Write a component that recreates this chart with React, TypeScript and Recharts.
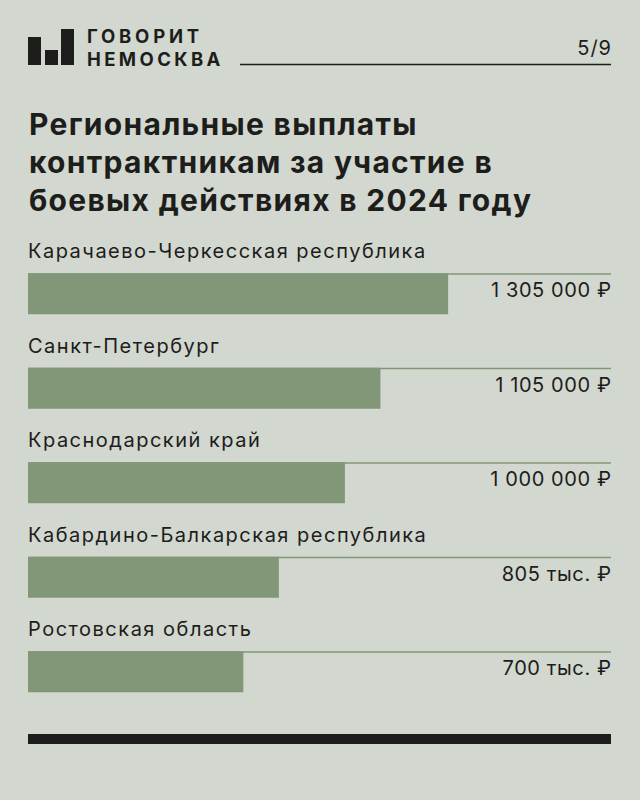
import React from "react";
import { BarChart, Bar, XAxis, YAxis } from "recharts";

const regions = [
  "Карачаево-Черкесская республика",
  "Санкт-Петербург",
  "Краснодарский край",
  "Кабардино-Балкарская республика",
  "Ростовская область",
];
const payments = [1305000, 1105000, 1000000, 805000, 700000];
const paymentLabels = [
  "1 305 000 ₽",
  "1 105 000 ₽",
  "1 000 000 ₽",
  "805 тыс. ₽",
  "700 тыс. ₽",
];
const titleLines = [
  "Региональные выплаты",
  "контрактникам за участие в",
  "боевых действиях в 2024 году",
];

const data = regions.map((name, i) => ({
  name,
  value: payments[i],
  label: paymentLabels[i],
}));

const BG = "#d2d7cf";
const BAR = "#829777";
const INK = "#1d1d1b";
const FONT = "Inter, 'Noto Sans', sans-serif";

const Track = (props: any) => {
  const { x, y, width, index } = props;
  return (
    <g>
      <line x1={x} x2={x + width} y1={y + 0.75} y2={y + 0.75} stroke={BAR} strokeWidth={1.5} />
      <text x={x} y={y - 15} fontFamily={FONT} fontSize={20} letterSpacing={1.5} fill={INK}>
        {regions[index]}
      </text>
      <text x={x + width + 0.6} y={y + 24} fontFamily={FONT} fontSize={20} letterSpacing={0.6} fill={INK} textAnchor="end">
        {paymentLabels[index]}
      </text>
    </g>
  );
};

export default function App() {
  return (
    <div style={{ position: "absolute", left: 0, top: 0, width: 640, height: 800, background: BG, overflow: "hidden" }}>
      <svg width={640} height={800} style={{ position: "absolute", left: 0, top: 0 }}>
        <rect x={28} y={37} width={13} height={28} fill={INK} />
        <rect x={45} y={50} width={13} height={15} fill={INK} />
        <rect x={61} y={29} width={13} height={36} fill={INK} />
        <text x={87} y={43} fontFamily={FONT} fontWeight={700} fontSize={18.5} letterSpacing={3.8} fill={INK}>ГОВОРИТ</text>
        <text x={87} y={66} fontFamily={FONT} fontWeight={700} fontSize={18.5} letterSpacing={3.4} fill={INK}>НЕМОСКВА</text>
        <line x1={240} x2={611} y1={64.5} y2={64.5} stroke={INK} strokeWidth={1.5} />
        <text x={612} y={55} fontFamily={FONT} fontSize={20} letterSpacing={1} fill={INK} textAnchor="end">5/9</text>
        {titleLines.map((t, i) => (
          <text key={i} x={29} y={135 + i * 38} fontFamily={FONT} fontWeight={700} fontSize={30} letterSpacing={1.3} fill={INK}>
            {t}
          </text>
        ))}
        <rect x={28} y={734} width={583} height={10} fill={INK} />
      </svg>
      <div style={{ position: "absolute", left: 0, top: 0 }}>
        <BarChart
          width={640}
          height={800}
          data={data}
          layout="vertical"
          margin={{ top: 246.25, bottom: 81.25, left: 28, right: 29 }}
        >
          <XAxis type="number" hide domain={[64000, 1786000]} allowDataOverflow />
          <YAxis type="category" dataKey="name" hide />
          <Bar
            dataKey="value"
            fill={BAR}
            barSize={41}
            isAnimationActive={false}
            background={(p: any) => <Track key={`t-${p.index}`} {...p} />}
          />
        </BarChart>
      </div>
    </div>
  );
}
